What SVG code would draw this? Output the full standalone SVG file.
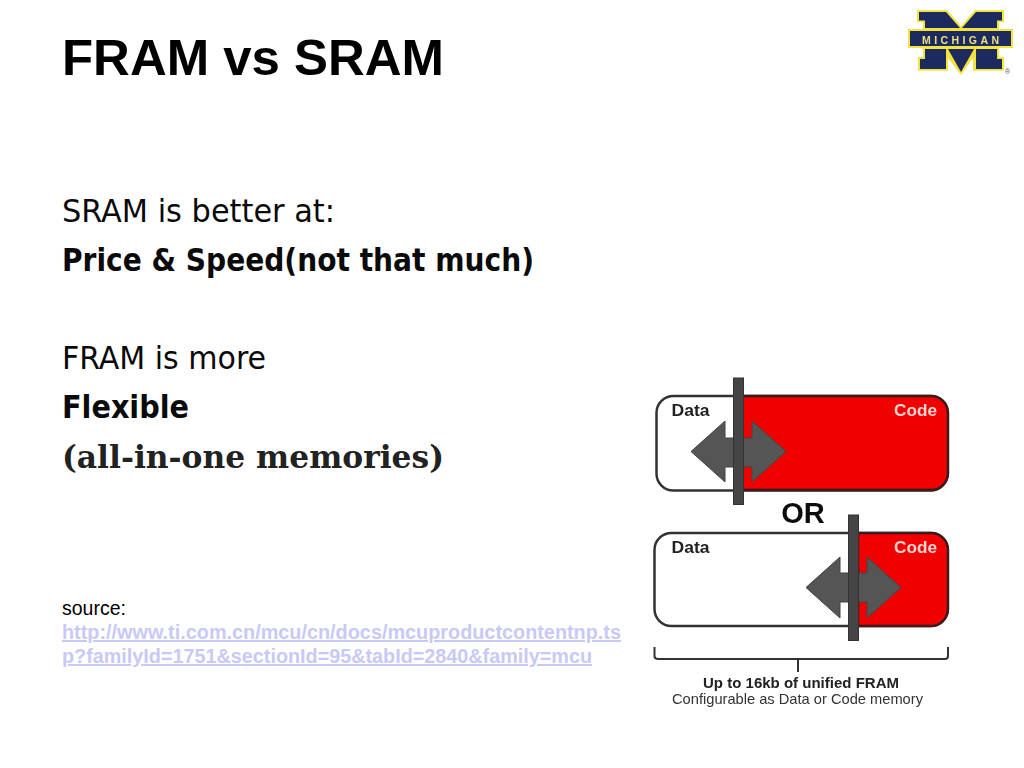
<svg xmlns="http://www.w3.org/2000/svg" width="1024" height="768" viewBox="0 0 1024 768">
<style>
.t{font-family:"DejaVu Sans",sans-serif;font-stretch:condensed;font-size:32.5px;fill:#0a0a0a}
.tb{font-family:"DejaVu Sans",sans-serif;font-stretch:condensed;font-size:32px;font-weight:bold;fill:#0a0a0a}
.s{font-family:"Liberation Sans",Arial,sans-serif}
.box{stroke:#333;stroke-width:2.500}
.bar{fill:#444;stroke:#333;stroke-width:1}
.arr{fill:#555;stroke:#444;stroke-width:1}
.link{font-family:"Liberation Sans",Arial,sans-serif;font-size:20px;font-weight:bold;fill:#c9c9f6;text-decoration:underline}
.l{font-family:"Liberation Sans",Arial,sans-serif;font-size:16.500px;font-weight:bold}
</style>
<defs><filter id="soft" x="-5%" y="-5%" width="110%" height="110%"><feGaussianBlur stdDeviation="0.5"/></filter></defs>
<rect width="1024" height="768" fill="#fff"/>
<text class="s" x="62" y="74.500" font-size="50" font-weight="bold" fill="#000" textLength="382" lengthAdjust="spacingAndGlyphs">FRAM vs SRAM</text>
<text class="t" x="62" y="222" textLength="273" lengthAdjust="spacingAndGlyphs">SRAM is better at:</text>
<text class="tb" x="62" y="271" textLength="472" lengthAdjust="spacingAndGlyphs">Price &amp; Speed(not that much)</text>
<text class="t" x="62" y="369" textLength="204" lengthAdjust="spacingAndGlyphs">FRAM is more</text>
<text class="tb" x="62" y="418" textLength="127" lengthAdjust="spacingAndGlyphs">Flexible</text>
<text x="62" y="468" font-family="'DejaVu Serif',serif" font-size="32" font-weight="bold" fill="#222" textLength="382" lengthAdjust="spacingAndGlyphs">(all-in-one memories)</text>
<text class="s" x="62" y="615" font-size="19.500" fill="#000">source:</text>
<text class="link" x="62" y="639" textLength="559" lengthAdjust="spacingAndGlyphs">http://www.ti.com.cn/mcu/cn/docs/mcuproductcontentnp.ts</text>
<text class="link" x="62" y="663" textLength="530" lengthAdjust="spacingAndGlyphs">p?familyId=1751&amp;sectionId=95&amp;tabId=2840&amp;family=mcu</text>
<g id="logo" filter="url(#soft)">
<path d="M917 10H947L961 26L975 10H1004V22.300H999V29H1013V48H999V57H1004V70.700H973V58L961 75L948 58V70.700H918V57H923V48H908V29H923V22.300H917Z" fill="#f3e33c"/>
<g fill="#1c2a5e">
<path d="M919 12H946L960 28H925V20.500H919Z"/>
<path d="M976 12H1002V20.500H997V28H962Z"/>
<rect x="910" y="31" width="101" height="15"/>
<path d="M925 49H946V69H920V59H925Z"/>
<path d="M948 49H974L961 72Z"/>
<path d="M976 49H997V59H1002V69H976Z"/>
</g>
<text x="922" y="44" font-family="'Liberation Sans',sans-serif" font-size="10.500" font-weight="bold" fill="#ece27c" textLength="77">MICHIGAN</text>
<text x="1005" y="73.500" font-family="'Liberation Sans',sans-serif" font-size="7" fill="#555">®</text>
</g>
<g id="fram-figure" filter="url(#soft)">
<g id="top-bar">
<rect class="box" x="656.500" y="396" width="291" height="94.500" rx="17" fill="#fff"/>
<path d="M738 396H931a17 17 0 0 1 17 17V473a17 17 0 0 1-17 17H738Z" fill="#f00000" stroke="#3a1a1a" stroke-width="2.500"/>
<path class="arr" d="M691 451.500L725 421V438H752V421L786 451.500L752 482V467H725V482Z"/>
<rect class="bar" x="733.500" y="378" width="10" height="126.500"/>
<text class="l" x="671.500" y="415.500" fill="#222" textLength="38" lengthAdjust="spacingAndGlyphs">Data</text>
<text class="l" x="894" y="415.500" fill="#f5d5d0" textLength="43" lengthAdjust="spacingAndGlyphs">Code</text>
</g>
<text x="803" y="523" text-anchor="middle" font-family="'Liberation Sans',sans-serif" font-size="29" font-weight="bold" fill="#111">OR</text>
<g id="bottom-bar">
<rect class="box" x="654.500" y="533" width="293" height="93" rx="17" fill="#fff"/>
<path d="M858 533H931a17 17 0 0 1 17 17V609a17 17 0 0 1-17 17H858Z" fill="#f00000" stroke="#3a1a1a" stroke-width="2.500"/>
<path class="arr" d="M806 587.500L840 557V573H867V557L901 587.500L867 618V602H840V618Z"/>
<rect class="bar" x="848.500" y="515" width="10" height="125.500"/>
<text class="l" x="671.500" y="552.500" fill="#222" textLength="38" lengthAdjust="spacingAndGlyphs">Data</text>
<text class="l" x="894" y="552.500" fill="#f5d5d0" textLength="43" lengthAdjust="spacingAndGlyphs">Code</text>
</g>
<path id="brace" d="M654.500 647V656Q654.500 659 658 659H945Q948 659 948 656V647M798 659V672" fill="none" stroke="#333" stroke-width="2"/>
<text x="703" y="688" font-family="'Liberation Sans',sans-serif" font-size="14" font-weight="bold" fill="#222" textLength="196" lengthAdjust="spacingAndGlyphs">Up to 16kb of unified FRAM</text>
<text x="672" y="704" font-family="'Liberation Sans',sans-serif" font-size="15" fill="#333" textLength="251" lengthAdjust="spacingAndGlyphs">Configurable as Data or Code memory</text>
</g>
</svg>
